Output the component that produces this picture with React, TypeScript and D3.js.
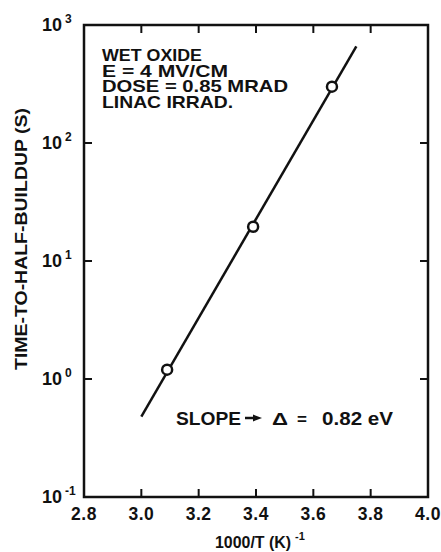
import React, { useRef, useEffect } from 'react';
import * as d3 from 'd3';

// measured points (1000/T, time-to-half-buildup in s)
const invTemp = [3.09, 3.39, 3.665];
const halfTime = [1.2, 19.5, 300];

// fitted line end points
const fitInvTemp = [3.0, 3.75];
const fitHalfTime = [0.48, 660];

const xTicks = [2.8, 3.0, 3.2, 3.4, 3.6, 3.8, 4.0];
const yTicks = [0.1, 1, 10, 100, 1000];
const yExponents = ['-1', '0', '1', '2', '3'];

const noteLines = ['WET OXIDE', 'E = 4 MV/CM', 'DOSE = 0.85 MRAD', 'LINAC IRRAD.'];

const FONT = '"Liberation Sans", Arial, Helvetica, sans-serif';

const App: React.FC = () => {
  const svgRef = useRef<SVGSVGElement>(null);
  const width = 441;
  const height = 552;

  useEffect(() => {
    if (!svgRef.current) return;
    const svg = d3.select(svgRef.current);
    svg.selectAll('*').remove();

    const left = 84, right = 428, top = 25, bottom = 497;

    const x = d3.scaleLinear().domain([2.8, 4.0]).range([left, right]);
    const y = d3.scaleLog().domain([0.1, 1000]).range([bottom, top]);

    const g = svg.append('g')
      .style('font-family', FONT)
      .style('font-weight', 'bold')
      .attr('fill', '#111');

    // frame
    g.append('rect')
      .attr('x', left)
      .attr('y', top)
      .attr('width', right - left)
      .attr('height', bottom - top)
      .attr('fill', 'none')
      .attr('stroke', '#111')
      .attr('stroke-width', 2.5);

    const tickLen = 8;
    // x ticks on bottom and top, pointing inward
    xTicks.slice(1, -1).forEach(t => {
      g.append('line')
        .attr('x1', x(t)).attr('x2', x(t))
        .attr('y1', bottom).attr('y2', bottom - tickLen)
        .attr('stroke', '#111').attr('stroke-width', 2);
      g.append('line')
        .attr('x1', x(t)).attr('x2', x(t))
        .attr('y1', top).attr('y2', top + tickLen)
        .attr('stroke', '#111').attr('stroke-width', 2);
    });
    // y ticks left and right
    yTicks.slice(1, -1).forEach(t => {
      g.append('line')
        .attr('x1', left).attr('x2', left + tickLen)
        .attr('y1', y(t)).attr('y2', y(t))
        .attr('stroke', '#111').attr('stroke-width', 2);
      g.append('line')
        .attr('x1', right).attr('x2', right - tickLen)
        .attr('y1', y(t)).attr('y2', y(t))
        .attr('stroke', '#111').attr('stroke-width', 2);
    });

    // x tick labels
    g.selectAll('.xlab')
      .data(xTicks)
      .enter()
      .append('text')
      .attr('class', 'xlab')
      .attr('x', d => x(d))
      .attr('y', bottom + 23)
      .attr('text-anchor', 'middle')
      .style('font-size', '17.5px')
      .style('letter-spacing', '0.5px')
      .text(d => d.toFixed(1));

    // y tick labels: 10 with a superscript exponent
    yTicks.forEach((t, i) => {
      g.append('text')
        .attr('x', left - 22)
        .attr('y', y(t) + 6)
        .attr('text-anchor', 'end')
        .style('font-size', '18px')
        .text('10');
      g.append('text')
        .attr('x', left - 19)
        .attr('y', y(t) - 2)
        .style('font-size', '12px')
        .text(yExponents[i]);
    });

    // axis titles
    g.append('text')
      .attr('transform', 'translate(27,239) rotate(-90)')
      .attr('text-anchor', 'middle')
      .attr('textLength', 262)
      .attr('lengthAdjust', 'spacingAndGlyphs')
      .style('font-size', '17px')
      .text('TIME-TO-HALF-BUILDUP (S)');

    g.append('text')
      .attr('x', 215)
      .attr('y', 548)
      .attr('textLength', 76)
      .attr('lengthAdjust', 'spacingAndGlyphs')
      .style('font-size', '16px')
      .text('1000/T (K)');
    g.append('text')
      .attr('x', 295)
      .attr('y', 540)
      .style('font-size', '11px')
      .text('-1');

    // fitted line
    const line = d3.line<number>()
      .x(d => x(d))
      .y((d, i) => y(fitHalfTime[i]));
    g.append('path')
      .datum(fitInvTemp)
      .attr('d', line)
      .attr('fill', 'none')
      .attr('stroke', '#111')
      .attr('stroke-width', 2.5);

    // data points
    g.selectAll('.pt')
      .data(invTemp)
      .enter()
      .append('circle')
      .attr('class', 'pt')
      .attr('cx', d => x(d))
      .attr('cy', (d, i) => y(halfTime[i]))
      .attr('r', 5)
      .attr('fill', '#fff')
      .attr('stroke', '#111')
      .attr('stroke-width', 2.5);

    // notes in upper left
    const noteWidths = [100, 126, 186, 131];
    g.selectAll('.note')
      .data(noteLines)
      .enter()
      .append('text')
      .attr('class', 'note')
      .attr('x', 102)
      .attr('y', (d, i) => 61 + i * 15.7)
      .attr('textLength', (d, i) => noteWidths[i])
      .attr('lengthAdjust', 'spacingAndGlyphs')
      .style('font-size', '17px')
      .text(d => d);

    // slope note, built from pieces
    const sy = 425;
    g.append('text').attr('x', 176).attr('y', sy)
      .attr('textLength', 65).attr('lengthAdjust', 'spacingAndGlyphs')
      .style('font-size', '17.5px').text('SLOPE');
    g.append('line')
      .attr('x1', 245).attr('x2', 255)
      .attr('y1', sy - 7).attr('y2', sy - 7)
      .attr('stroke', '#111').attr('stroke-width', 2.5);
    g.append('path')
      .attr('d', `M253,${sy - 10.5} L262,${sy - 7} L253,${sy - 3.5} Z`)
      .attr('fill', '#111');
    g.append('text').attr('x', 272).attr('y', sy)
      .attr('textLength', 16).attr('lengthAdjust', 'spacingAndGlyphs')
      .style('font-size', '17px').text('\u0394');
    g.append('text').attr('x', 297).attr('y', sy)
      .style('font-size', '17px').text('=');
    g.append('text').attr('x', 322).attr('y', sy)
      .attr('textLength', 71).attr('lengthAdjust', 'spacingAndGlyphs')
      .style('font-size', '17.5px').text('0.82 eV');
  }, []);

  return (
    <svg
      ref={svgRef}
      width={width}
      height={height}
      style={{ position: 'absolute', left: 0, top: 0, background: '#fff' }}
    />
  );
};

export default App;
